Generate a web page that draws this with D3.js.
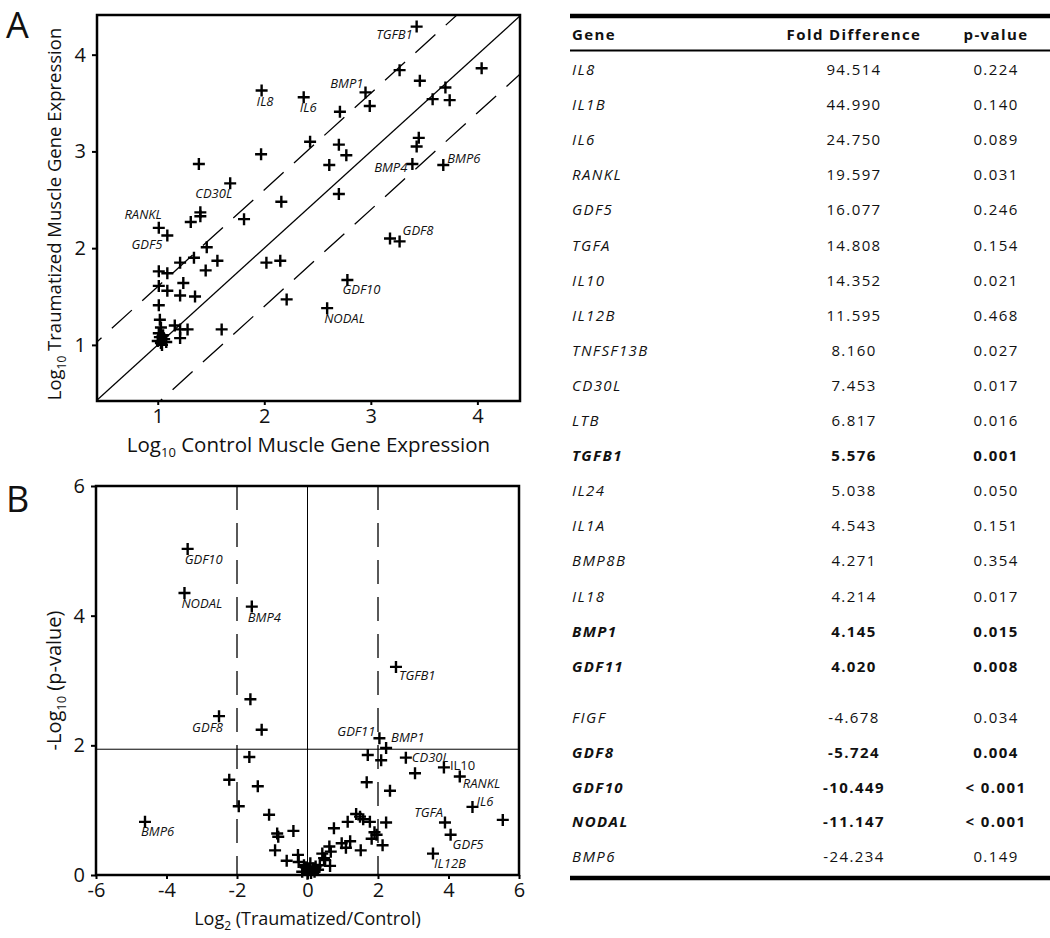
<!DOCTYPE html>
<html>
<head>
<meta charset="utf-8">
<script src="https://cdn.jsdelivr.net/npm/d3@7"></script>
<style>
    body { margin: 0; background: #fff; }
    svg text { font-family: "Open Sans", "DejaVu Sans", sans-serif; fill: #111; }
    .tick text { font-size: 20px; }
    .tick line { stroke: #000; stroke-width: 2; }
    .gene { font-style: italic; font-size: 13px; }
    .gene.upright { font-style: normal; }
    .tbl { font-size: 15px; letter-spacing: 1.4px; }
    .tbl.bold { font-weight: bold; }
</style>
</head>
<body>
<div id="chart"></div>
<script>
// panel A: log10 control vs log10 traumatized expression
var aControl = [3.43, 3.27, 4.04, 3.46, 2.95, 3.70, 3.58, 3.74, 2.99, 2.71,
    1.975, 2.37, 2.43, 2.70, 2.77, 3.45, 3.43, 2.61, 3.39, 3.68,
    2.70, 1.97, 1.386, 1.68, 2.16, 1.40, 1.40, 1.31, 1.81, 1.01,
    1.09, 1.46, 1.34, 1.21, 1.56, 2.02, 2.15, 1.45, 1.01, 1.09,
    1.24, 1.01, 1.09, 1.21, 1.35, 2.21, 1.01, 1.02, 1.03, 1.16,
    1.21, 1.28, 1.21, 1.60, 3.18, 3.27, 2.78, 2.59,
    1.00, 1.03, 1.06, 1.02, 1.08, 1.04, 1.01, 1.05];
var aTrauma = [4.29, 3.84, 3.86, 3.73, 3.61, 3.66, 3.54, 3.53, 3.47, 3.41,
    3.63, 3.56, 3.10, 3.07, 2.96, 3.14, 3.05, 2.86, 2.87, 2.86,
    2.56, 2.97, 2.87, 2.67, 2.48, 2.37, 2.33, 2.27, 2.30, 2.21,
    2.13, 2.01, 1.90, 1.85, 1.87, 1.85, 1.87, 1.77, 1.76, 1.74,
    1.64, 1.61, 1.56, 1.51, 1.50, 1.47, 1.41, 1.26, 1.18, 1.20,
    1.16, 1.16, 1.07, 1.16, 2.10, 2.07, 1.67, 1.38,
    1.04, 1.02, 1.06, 1.08, 1.03, 1.00, 1.12, 1.10];
var aNames = ["TGFB1", "", "", "", "BMP1", "", "", "", "", "",
    "IL8", "IL6", "", "", "", "", "", "", "BMP4", "BMP6",
    "", "", "", "CD30L", "", "", "", "", "", "RANKL",
    "GDF5", "", "", "", "", "", "", "", "", "",
    "", "", "", "", "", "", "", "", "", "",
    "", "", "", "", "", "GDF8", "GDF10", "NODAL",
    "", "", "", "", "", "", "", ""];
var aTicks = [1, 2, 3, 4];
var foldLine = Math.log10(4);

// panel B: volcano plot
var bLog2Fold = [-3.40, -3.49, -1.58, 2.51, -1.62, -2.51, -1.30, -1.65, -2.22, -1.41,
    -1.95, -4.61, -1.09, -0.40, -0.86, -0.83, -0.92, -0.27, -0.59, 2.04,
    2.23, 1.71, 2.09, 2.79, 3.05, 3.87, 4.32, 1.68, 2.34, 4.68,
    5.54, 3.90, 4.06, 3.56, 1.38, 1.49, 1.58, 1.77, 1.14, 2.23,
    0.75, 1.90, 1.96, 1.82, 2.13, 1.51, 1.21, 0.97, 1.09, 0.62,
    0.66, 0.42, 0.47, 0.64, 0.50, 0.23,
    -0.15, 0.00, 0.05, 0.10, -0.05, 0.15, 0.20, -0.10, 0.08, 0.30, -0.25, 0.35];
var bNegLogP = [5.03, 4.35, 4.14, 3.21, 2.71, 2.45, 2.24, 1.82, 1.47, 1.37,
    1.06, 0.82, 0.93, 0.68, 0.64, 0.59, 0.38, 0.31, 0.22, 2.11,
    1.96, 1.85, 1.77, 1.81, 1.57, 1.66, 1.52, 1.43, 1.30, 1.05,
    0.85, 0.81, 0.62, 0.33, 0.94, 0.90, 0.86, 0.82, 0.82, 0.81,
    0.72, 0.66, 0.62, 0.56, 0.46, 0.38, 0.52, 0.49, 0.42, 0.44,
    0.36, 0.33, 0.26, 0.14, 0.23, 0.13,
    0.05, 0.02, 0.08, 0.03, 0.12, 0.10, 0.05, 0.15, 0.18, 0.08, 0.20, 0.15];
var bNames = ["GDF10", "NODAL", "BMP4", "TGFB1", "", "GDF8", "", "", "", "",
    "", "BMP6", "", "", "", "", "", "", "", "GDF11",
    "BMP1", "", "", "CD30L", "", "IL10", "RANKL", "", "", "IL6",
    "", "TGFA", "GDF5", "IL12B", "", "", "", "", "", "",
    "", "", "", "", "", "", "", "", "", "",
    "", "", "", "", "", "",
    "", "", "", "", "", "", "", "", "", "", "", ""];
var bXTicks = [-6, -4, -2, 0, 2, 4, 6];
var bYTicks = [0, 2, 4, 6];
var pThreshold = 1.94;
var bFoldLines = [-2, 2];

// table
var tblGenes = ["IL8", "IL1B", "IL6", "RANKL", "GDF5", "TGFA", "IL10", "IL12B", "TNFSF13B",
    "CD30L", "LTB", "TGFB1", "IL24", "IL1A", "BMP8B", "IL18", "BMP1", "GDF11",
    "FIGF", "GDF8", "GDF10", "NODAL", "BMP6"];
var tblFold = ["94.514", "44.990", "24.750", "19.597", "16.077", "14.808", "14.352", "11.595", "8.160",
    "7.453", "6.817", "5.576", "5.038", "4.543", "4.271", "4.214", "4.145", "4.020",
    "-4.678", "-5.724", "-10.449", "-11.147", "-24.234"];
var tblP = ["0.224", "0.140", "0.089", "0.031", "0.246", "0.154", "0.021", "0.468", "0.027",
    "0.017", "0.016", "0.001", "0.050", "0.151", "0.354", "0.017", "0.015", "0.008",
    "0.034", "0.004", "< 0.001", "< 0.001", "0.149"];
var tblBold = ["TGFB1", "BMP1", "GDF11", "GDF8", "GDF10", "NODAL"];
var tblUpCount = 18;

(function() {

    var svg = d3.select("#chart")
        .append("svg")
        .attr("width", 1050)
        .attr("height", 938);

    var plus = "M-6,0H6M0,-6V6";
    var fmt = function(d) { return String(d); };   // plain hyphen, not unicode minus

    // label placement: [dx, dy, anchor]
    var aLabelPos = {
        TGFB1: [-4, 12, "end"], IL8: [-5, 16, "start"], IL6: [-4, 15, "start"],
        BMP1: [-2, -4, "end"], BMP4: [-5, 8, "end"], BMP6: [4, -2, "start"],
        CD30L: [2, 15, "end"], RANKL: [3, -9, "end"], GDF5: [-5, 13, "end"],
        GDF8: [3, -6, "start"], GDF10: [-5, 14, "start"], NODAL: [-3, 15, "start"]
    };
    var bLabelPos = {
        GDF10: [-3, 15, "start"], NODAL: [-3, 15, "start"], BMP4: [-4, 15, "start"],
        TGFB1: [3, 13, "start"], GDF8: [4, 16, "end"], BMP6: [-4, 14, "start"],
        GDF11: [-4, -2, "end"], BMP1: [5, -6, "start"], CD30L: [6, 4, "start"],
        IL10: [6, 3, "start"], RANKL: [3, 12, "start"], IL6: [4, -1, "start"],
        TGFA: [-2, -5, "end"], GDF5: [2, 14, "start"], IL12B: [1, 14, "start"]
    };

    var subLabel = function(sel, parts, size) {
        sel.attr("font-size", size);
        sel.append("tspan").text(parts[0]);
        sel.append("tspan").attr("font-size", Math.round(size * 0.65)).attr("dy", 5).text(parts[1]);
        sel.append("tspan").attr("dy", -5).text(parts[2]);
    };

    var drawPanel = function(o) {
        var g = svg.append("g");
        var x = o.x, y = o.y;
        var r = [x.range()[0], y.range()[1], x.range()[1] - x.range()[0], y.range()[0] - y.range()[1]];

        g.append("clipPath").attr("id", o.id)
            .append("rect").attr("x", r[0]).attr("y", r[1]).attr("width", r[2]).attr("height", r[3]);

        var inner = g.append("g").attr("clip-path", "url(#" + o.id + ")");
        o.guides(inner, x, y);

        // axes
        g.append("g")
            .attr("transform", "translate(0," + y.range()[0] + ")")
            .call(d3.axisBottom(x).tickValues(o.xTicks).tickSize(4).tickPadding(4).tickFormat(fmt))
            .call(function(a) { a.select(".domain").remove(); });
        g.append("g")
            .attr("transform", "translate(" + x.range()[0] + ",0)")
            .call(d3.axisLeft(y).tickValues(o.yTicks).tickSize(5).tickPadding(6).tickFormat(fmt))
            .call(function(a) { a.select(".domain").remove(); });
        g.selectAll(".tick text").attr("fill", "#111").style("font-family", "'Open Sans', sans-serif");

        g.append("rect")
            .attr("x", r[0]).attr("y", r[1]).attr("width", r[2]).attr("height", r[3])
            .attr("fill", "none").attr("stroke", "#000").attr("stroke-width", 2.5);

        // points
        var pts = o.xs.map(function(v, i) { return { x: v, y: o.ys[i], name: o.names[i] }; });
        g.selectAll("path.pt").data(pts).enter()
            .append("path").attr("class", "pt")
            .attr("d", plus)
            .attr("transform", function(d) { return "translate(" + x(d.x) + "," + y(d.y) + ")"; })
            .attr("stroke", "#000").attr("stroke-width", 2.4).attr("fill", "none");

        g.selectAll("text.gene").data(pts.filter(function(d) { return d.name; })).enter()
            .append("text")
            .attr("class", function(d) { return d.name === o.upright ? "gene upright" : "gene"; })
            .attr("x", function(d) { return x(d.x) + o.labelPos[d.name][0]; })
            .attr("y", function(d) { return y(d.y) + o.labelPos[d.name][1]; })
            .attr("text-anchor", function(d) { return o.labelPos[d.name][2]; })
            .text(function(d) { return d.name; });

        //add the axes labels
        var cx = (r[0] + r[0] + r[2]) / 2, cy = (r[1] + r[1] + r[3]) / 2;
        g.append("text").attr("class", "axis-label")
            .attr("text-anchor", "middle")
            .attr("x", cx).attr("y", o.xLabelY)
            .call(subLabel, o.xLabel, o.xLabelSize);
        g.append("text").attr("class", "axis-label")
            .attr("text-anchor", "middle")
            .attr("transform", "rotate(-90)")
            .attr("x", -(cy + o.yLabelShift)).attr("y", 61)
            .call(subLabel, o.yLabel, o.yLabelSize);

        svg.append("text").attr("x", 6).attr("y", o.letterY)
            .attr("font-size", 36).text(o.letter);
    };

    // panel A
    var xA = d3.scaleLinear().domain([0.43, 4.4]).range([97, 520]);
    var yA = d3.scaleLinear().domain([0.42, 4.41]).range([401, 15]);
    drawPanel({
        id: "clipA", x: xA, y: yA, xTicks: aTicks, yTicks: aTicks,
        xs: aControl, ys: aTrauma, names: aNames, labelPos: aLabelPos,
        xLabel: ["Log", "10", " Control Muscle Gene Expression"], xLabelY: 452, xLabelSize: 20.5,
        yLabel: ["Log", "10", " Traumatized Muscle Gene Expression"], yLabelShift: 6, yLabelSize: 18.5,
        letter: "A", letterY: 38,
        guides: function(g, x, y) {
            var d = x.domain();
            [-foldLine, 0, foldLine].forEach(function(off) {
                g.append("line")
                    .attr("x1", x(d[0] - 1)).attr("y1", y(d[0] - 1 + off))
                    .attr("x2", x(d[1] + 1)).attr("y2", y(d[1] + 1 + off))
                    .attr("stroke", "#000").attr("stroke-width", 1.3)
                    .attr("stroke-dasharray", off === 0 ? null : "27,14");
            });
        }
    });

    // panel B
    var xB = d3.scaleLinear().domain([-6, 6]).range([96, 519]);
    var yB = d3.scaleLinear().domain([0, 6]).range([875, 486]);
    drawPanel({
        id: "clipB", x: xB, y: yB, xTicks: bXTicks, yTicks: bYTicks,
        xs: bLog2Fold, ys: bNegLogP, names: bNames, labelPos: bLabelPos, upright: "IL10",
        xLabel: ["Log", "2", " (Traumatized/Control)"], xLabelY: 925, xLabelSize: 18,
        yLabel: ["-Log", "10", " (p-value)"], yLabelShift: 0, yLabelSize: 20,
        letter: "B", letterY: 512,
        guides: function(g, x, y) {
            g.append("line")
                .attr("x1", x(-6)).attr("x2", x(6)).attr("y1", y(pThreshold)).attr("y2", y(pThreshold))
                .attr("stroke", "#000").attr("stroke-width", 1);
            g.append("line")
                .attr("x1", x(0)).attr("x2", x(0)).attr("y1", y(0)).attr("y2", y(6))
                .attr("stroke", "#000").attr("stroke-width", 1);
            bFoldLines.forEach(function(v) {
                g.append("line")
                    .attr("x1", x(v)).attr("x2", x(v)).attr("y1", y(6)).attr("y2", y(0))
                    .attr("stroke", "#000").attr("stroke-width", 1.3)
                    .attr("stroke-dasharray", "24,13");
            });
        }
    });

    // table
    var t = svg.append("g");
    var rowY = function(i) { return i < tblUpCount ? 70 + i * 35.1 : 718 + (i - tblUpCount) * 34.8; };
    var cols = [572, 854, 996];

    t.append("line").attr("x1", 570).attr("x2", 1050).attr("y1", 16).attr("y2", 16)
        .attr("stroke", "#000").attr("stroke-width", 4.5);
    t.append("line").attr("x1", 570).attr("x2", 1050).attr("y1", 50.5).attr("y2", 50.5)
        .attr("stroke", "#000").attr("stroke-width", 2);
    t.append("line").attr("x1", 570).attr("x2", 1050).attr("y1", 878).attr("y2", 878)
        .attr("stroke", "#000").attr("stroke-width", 4.5);

    ["Gene", "Fold Difference", "p-value"].forEach(function(h, k) {
        t.append("text").attr("class", "tbl bold")
            .attr("x", cols[k]).attr("y", 40)
            .attr("text-anchor", k === 0 ? "start" : "middle")
            .text(h);
    });

    tblGenes.forEach(function(gene, i) {
        var b = tblBold.indexOf(gene) >= 0 ? " bold" : "";
        var yy = rowY(i) + 5;
        t.append("text").attr("class", "tbl" + b).style("font-style", "italic")
            .attr("x", cols[0]).attr("y", yy).text(gene);
        t.append("text").attr("class", "tbl" + b).attr("text-anchor", "middle")
            .attr("x", cols[1]).attr("y", yy).text(tblFold[i]);
        t.append("text").attr("class", "tbl" + b).attr("text-anchor", "middle")
            .attr("x", cols[2]).attr("y", yy).text(tblP[i]);
    });

})();
</script>
</body>
</html>
